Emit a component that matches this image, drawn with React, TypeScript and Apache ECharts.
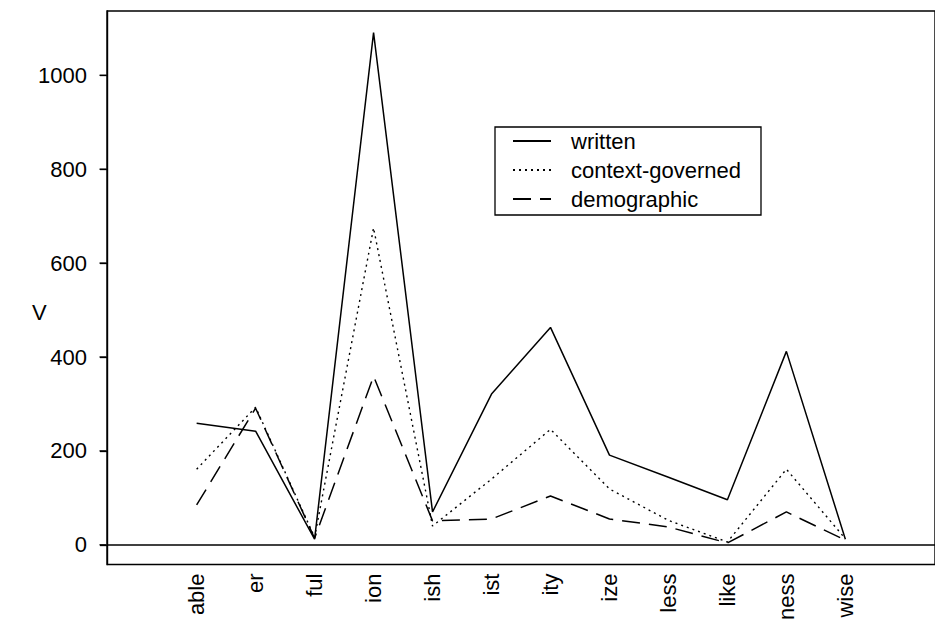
import React, { useEffect, useRef } from "react";
import * as echarts from "echarts";

const categories = ["able", "er", "ful", "ion", "ish", "ist", "ity", "ize", "less", "like", "ness", "wise"];
const written = [259, 242, 12, 1091, 70, 321, 463, 191, 144, 96, 412, 12];
const contextGoverned = [161, 293, 16, 675, 40, 140, 246, 119, 52, 6, 161, 13];
const demographic = [85, 291, 14, 359, 51, 55, 104, 55, 38, 4, 70, 10];
const yTicks = [0, 200, 400, 600, 800, 1000];
const seriesNames = ["written", "context-governed", "demographic"];

const FONT = "'Liberation Sans', Arial, Helvetica, sans-serif";
const FS = 22;
// categories sit at x = 2..13 on the value axis (1 unit padding each side plus R-style 4% extension)
const X_OFFSET = 2;
const X_MIN = X_OFFSET - 1.52;
const X_MAX = X_OFFSET + 12.52;

export default function App() {
  const ref = useRef<HTMLDivElement>(null);
  useEffect(() => {
    if (!ref.current) return;
    const chart = echarts.init(ref.current, null, { renderer: "svg" });
    const toPairs = (arr: number[]) => arr.map((v, i) => [i + X_OFFSET, v]);
    const xPositions = categories.map((_, i) => i + X_OFFSET);
    const baseLine = { color: "#000", width: 1.5 };
    chart.setOption({
      animation: false,
      backgroundColor: "#fff",
      textStyle: { fontFamily: FONT },
      grid: {
        show: true,
        left: 107,
        top: 11,
        bottom: 57,
        right: -11,
        borderColor: "#000",
        borderWidth: 1.4,
        backgroundColor: "transparent",
      },
      legend: {
        orient: "vertical",
        left: 495,
        top: 127,
        data: seriesNames,
        borderColor: "#000",
        borderWidth: 1.3,
        padding: [3, 20, 5, 17],
        itemWidth: 38,
        itemHeight: 14,
        itemGap: 7,
        itemStyle: { color: "transparent", borderWidth: 0, opacity: 0 },
        textStyle: { fontSize: FS, lineHeight: 22, color: "#000", fontFamily: FONT, padding: [0, 0, 0, 15] },
      },
      xAxis: {
        type: "value",
        min: X_MIN,
        max: X_MAX,
        axisLine: { show: false },
        axisTick: { show: false },
        splitLine: { show: false },
        axisLabel: {
          customValues: xPositions,
          formatter: (v: number) => categories[Math.round(v) - X_OFFSET] ?? "",
          rotate: 90,
          margin: 9,
          fontSize: FS,
          color: "#000",
          fontFamily: FONT,
        },
      },
      yAxis: {
        type: "value",
        min: -42,
        max: 1137,
        axisLine: { show: true, lineStyle: { color: "#000", width: 1.4 } },
        splitLine: { show: false },
        axisTick: {
          show: true,
          inside: false,
          customValues: yTicks,
          length: 7,
          lineStyle: { color: "#000", width: 1.3 },
        },
        axisLabel: {
          customValues: yTicks,
          formatter: (v: number) => String(v),
          margin: 20,
          fontSize: FS,
          color: "#000",
          fontFamily: FONT,
        },
      },
      graphic: [
        {
          type: "text",
          left: 32,
          top: 301,
          style: { text: "V", fontSize: FS, fill: "#000", fontFamily: FONT },
        },
      ],
      series: [
        {
          name: seriesNames[0],
          type: "line",
          data: toPairs(written),
          symbol: "none",
          lineStyle: { ...baseLine, type: "solid" },
          itemStyle: { color: "#000" },
          markLine: {
            silent: true,
            symbol: "none",
            label: { show: false },
            lineStyle: { color: "#000", width: 1.5, type: "solid" },
            data: [{ yAxis: 0 }],
          },
        },
        {
          name: seriesNames[1],
          type: "line",
          data: toPairs(contextGoverned),
          symbol: "none",
          lineStyle: { ...baseLine, width: 1.4, type: [2, 4] },
          itemStyle: { color: "#000" },
        },
        {
          name: seriesNames[2],
          type: "line",
          data: toPairs(demographic),
          symbol: "none",
          lineStyle: { ...baseLine, type: [18, 9] },
          itemStyle: { color: "#000" },
        },
        {
          // left-axis tick marks, placed on the y scale at the left edge of the plot
          name: "yTickMarks",
          type: "scatter",
          silent: true,
          clip: false,
          z: 10,
          data: yTicks.map((v) => [X_MIN, v]),
          symbol: "rect",
          symbolSize: [7, 1.4],
          symbolOffset: [-4, 0],
          itemStyle: { color: "#000", opacity: 1 },
          emphasis: { disabled: true },
        },
      ],
    });
    return () => chart.dispose();
  }, []);
  return (
    <div
      ref={ref}
      style={{ position: "absolute", left: 0, top: 0, width: 935, height: 623 }}
    />
  );
}
